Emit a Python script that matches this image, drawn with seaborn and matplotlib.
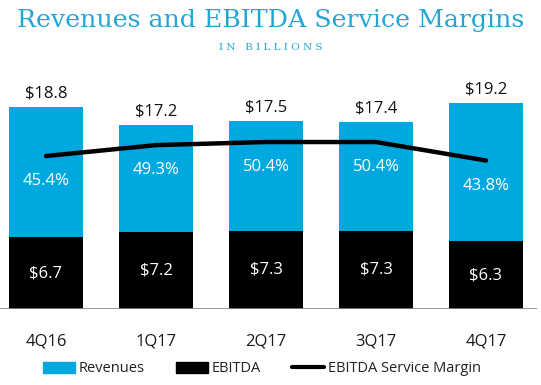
import numpy as np
import pandas as pd
import matplotlib.pyplot as plt
import seaborn as sns
from matplotlib.patches import Patch
from matplotlib.lines import Line2D

# chart data
quarters = ["4Q16", "1Q17", "2Q17", "3Q17", "4Q17"]
revenues = [18.8, 17.2, 17.5, 17.4, 19.2]
ebitda = [6.7, 7.2, 7.3, 7.3, 6.3]
margin = [45.4, 49.3, 50.4, 50.4, 43.8]

BLUE = "#00a8e0"
TITLE_BLUE = "#23a6d5"

df = pd.DataFrame({"quarter": quarters, "revenues": revenues,
                   "ebitda": ebitda, "margin": margin})

sns.set_style("white")
plt.rcParams["font.family"] = ["Open Sans", "DejaVu Sans"]

fig = plt.figure(figsize=(5.41, 3.85), dpi=100)
ax = fig.add_axes([0, 76 / 385, 537 / 541, 249 / 385])

bar_w = 74 / 110
sns.barplot(data=df, x="quarter", y="revenues", color=BLUE, width=bar_w,
            saturation=1, ax=ax, errorbar=None, linewidth=0)
sns.barplot(data=df, x="quarter", y="ebitda", color="black", width=bar_w,
            saturation=1, ax=ax, errorbar=None, linewidth=0)

ax.set_xlim(-46 / 110, 491 / 110)
ax.set_ylim(0, 249 / 10.72)
ax.axhline(0, color="#888888", lw=1.2)
for s in ax.spines.values():
    s.set_visible(False)
ax.set_yticks([])
ax.set_xlabel("")
ax.set_ylabel("")
ax.tick_params(axis="x", length=0, pad=18, labelsize=12, labelcolor="#1a1a1a")

# value labels
for i, (r, e) in enumerate(zip(revenues, ebitda)):
    ax.annotate(f"${r}", (i, r), xytext=(0, 4), textcoords="offset points",
                ha="center", va="bottom", fontsize=12, color="#111111")
    ax.text(i, e / 2, f"${e}", ha="center", va="center", fontsize=12,
            color="white")

# margin line on a twin axis
ax2 = ax.twinx()
sns.lineplot(x=np.arange(len(quarters)), y=margin, color="black", lw=3.2,
             ax=ax2, legend=False)
ax2.set_ylim(-9.24, 79.7)
ax2.set_yticks([])
ax2.set_ylabel("")
for s in ax2.spines.values():
    s.set_visible(False)
for i, m in enumerate(margin):
    ax2.annotate(f"{m}%", (i, m), xytext=(0, -18), textcoords="offset points",
                 ha="center", va="center", fontsize=12, color="white")

# titles
fig.text(0.5, 1 - 20 / 385, "Revenues and EBITDA Service Margins",
         ha="center", va="center", fontsize=18.2, color=TITLE_BLUE,
         family="DejaVu Serif")
fig.text(0.5, 1 - 48 / 385, "I N   B I L L I O N S", ha="center",
         va="center", fontsize=7.5, color=TITLE_BLUE, family="DejaVu Serif")

handles = [Patch(color=BLUE), Patch(color="black"),
           Line2D([], [], color="black", lw=3)]
fig.legend(handles, ["Revenues", "EBITDA", "EBITDA Service Margin"],
           loc="center", bbox_to_anchor=(262 / 541, 1 - 369 / 385), ncol=3,
           frameon=False, fontsize=10.5, handlelength=2.2, handleheight=0.8,
           handletextpad=0.3, columnspacing=2.1,
           labelcolor="#222222")

fig.savefig("out.png", dpi=100)
